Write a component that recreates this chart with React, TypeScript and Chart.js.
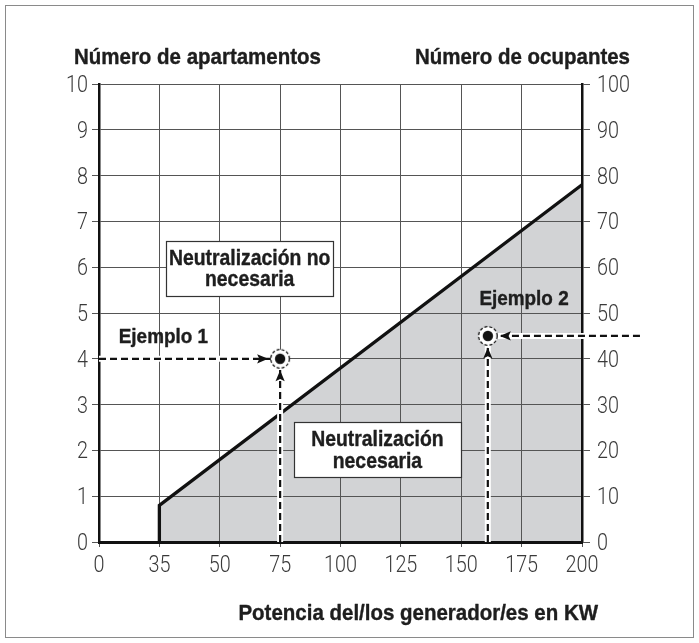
import React, { useEffect, useRef } from "react";
import { Chart, registerables } from "chart.js";

Chart.register(...registerables);

// ---- data ----
const xTickValues = [0, 35, 50, 75, 100, 125, 150, 175, 200]; // kW, drawn equally spaced
const xTickLabels = ["0", "35", "50", "75", "100", "125", "150", "175", "200"];
const apartmentMax = 10;
const occupantMax = 100;

const boundaryKw = [35, 35, 200];
const boundaryApartments = [0, 0.8, 7.8];

const exampleNames = ["Ejemplo 1", "Ejemplo 2"];
const exampleKw = [75, 161];
const exampleApartments = [4, 4.5];
const exampleGuideFromKw = [0, 224]; // where the horizontal guide line starts
const exampleLabelKw = [36, 176];
const exampleLabelApartments = [4.5, 5.32];

const leftTitle = "Número de apartamentos";
const rightTitle = "Número de ocupantes";
const xTitle = "Potencia del/los generador/es en KW";
const zoneNoLines = ["Neutralización no", "necesaria"];
const zoneYesLines = ["Neutralización", "necesaria"];
const zoneNoAt = { kw: 62.4, apartments: 5.97 };
const zoneYesAt = { kw: 115.3, apartments: 2.01 };

// map kW to the chart's equally spaced tick position
function kwToPos(kw: number): number {
  const n = xTickValues.length;
  if (kw >= xTickValues[n - 1]) {
    const span = xTickValues[n - 1] - xTickValues[n - 2];
    return n - 1 + (kw - xTickValues[n - 1]) / span;
  }
  for (let i = 0; i < n - 1; i++) {
    const a = xTickValues[i], b = xTickValues[i + 1];
    if (kw >= a && kw <= b) return i + (kw - a) / (b - a);
  }
  return 0;
}

const BOLD = "'Liberation Sans', Arial, sans-serif";
const LIGHT = "Roboto, 'Liberation Sans', sans-serif";

function condensedText(
  ctx: CanvasRenderingContext2D,
  text: string,
  x: number,
  y: number,
  font: string,
  sx: number,
  align: CanvasTextAlign,
  baseline: CanvasTextBaseline,
  color: string,
  heavy = 0
) {
  ctx.save();
  ctx.font = font;
  ctx.fillStyle = color;
  ctx.textAlign = align;
  ctx.textBaseline = baseline;
  ctx.translate(x, y);
  ctx.scale(sx, 1);
  ctx.fillText(text, 0, 0);
  if (heavy > 0) {
    ctx.strokeStyle = color;
    ctx.lineWidth = heavy;
    ctx.lineJoin = "round";
    ctx.strokeText(text, 0, 0);
  }
  ctx.restore();
}

export default function App() {
  const ref = useRef<HTMLCanvasElement>(null);

  useEffect(() => {
    const canvas = ref.current!;

    const marker = document.createElement("canvas");
    marker.width = 24;
    marker.height = 24;
    const m = marker.getContext("2d")!;
    m.fillStyle = "#fff";
    m.beginPath();
    m.arc(12, 12, 9.3, 0, Math.PI * 2);
    m.fill();
    m.setLineDash([3, 2]);
    m.lineWidth = 1.3;
    m.strokeStyle = "#111";
    m.stroke();
    m.setLineDash([]);
    m.fillStyle = "#111";
    m.beginPath();
    m.arc(12, 12, 5.2, 0, Math.PI * 2);
    m.fill();

    const guideSegments: { x: number; y: number }[][] = [];
    exampleKw.forEach((kw, i) => {
      const px = kwToPos(kw);
      const py = exampleApartments[i];
      guideSegments.push([
        { x: kwToPos(exampleGuideFromKw[i]), y: py },
        { x: px, y: py },
      ]);
      guideSegments.push([
        { x: px, y: 0 },
        { x: px, y: py },
      ]);
    });

    const datasets: any[] = [];
    datasets.push({
      data: exampleKw.map((kw, i) => ({ x: kwToPos(kw), y: exampleApartments[i] })),
      showLine: false,
      pointStyle: marker,
      pointRadius: 12,
      order: 0,
      clip: false,
    });
    guideSegments.forEach((seg) => {
      datasets.push({
        data: seg,
        borderColor: "#111",
        borderWidth: 2.2,
        borderDash: [7, 4],
        pointRadius: 0,
        fill: false,
        order: 1,
        clip: false,
      });
      datasets.push({
        data: seg,
        borderColor: "#fff",
        borderWidth: 6,
        pointRadius: 0,
        fill: false,
        order: 2,
        clip: false,
      });
    });
    datasets.push({
      data: boundaryKw.map((kw, i) => ({ x: kwToPos(kw), y: boundaryApartments[i] })),
      borderColor: "#111",
      borderWidth: 3.3,
      backgroundColor: "#d2d3d5",
      fill: "origin",
      pointRadius: 0,
      order: 3,
      borderJoinStyle: "miter",
    });

    const drawArrow = (ctx: CanvasRenderingContext2D, x: number, y: number, dir: string) => {
      const L = 11, W = 4.6;
      ctx.save();
      ctx.beginPath();
      if (dir === "right") {
        ctx.moveTo(x, y); ctx.lineTo(x - L, y - W); ctx.lineTo(x - L * 0.8, y); ctx.lineTo(x - L, y + W);
      } else if (dir === "left") {
        ctx.moveTo(x, y); ctx.lineTo(x + L, y - W); ctx.lineTo(x + L * 0.8, y); ctx.lineTo(x + L, y + W);
      } else {
        ctx.moveTo(x, y); ctx.lineTo(x - W, y + L); ctx.lineTo(x, y + L * 0.8); ctx.lineTo(x + W, y + L);
      }
      ctx.closePath();
      ctx.fillStyle = "#111";
      ctx.fill();
      ctx.restore();
    };

    const BOX_FONT = `bold 22px ${BOLD}`;
    const BOX_SX = 0.88;
    const drawBox = (ctx: CanvasRenderingContext2D, cx: number, cy: number, lines: string[]) => {
      const w = 167;
      const h = 55;
      const lh = 21.5;
      ctx.save();
      ctx.fillStyle = "#fff";
      ctx.fillRect(cx - w / 2, cy - h / 2, w, h);
      ctx.strokeStyle = "#333";
      ctx.lineWidth = 1.2;
      ctx.strokeRect(Math.round(cx - w / 2) + 0.5, Math.round(cy - h / 2) + 0.5, w, h);
      ctx.restore();
      lines.forEach((l, i) => {
        const y = cy - ((lines.length - 1) * lh) / 2 + i * lh + 1;
        condensedText(ctx, l, cx, y, BOX_FONT, BOX_SX, "center", "middle", "#1e1e1e", 0.4);
      });
    };

    const annotations = {
      id: "annotations",
      beforeDraw(chart: any) {
        const ctx = chart.ctx as CanvasRenderingContext2D;
        ctx.save();
        ctx.strokeStyle = "#8a8a8a";
        ctx.lineWidth = 1;
        ctx.strokeRect(5.5, 5.5, 688, 632);
        ctx.restore();
      },
      afterDraw(chart: any) {
        const ctx = chart.ctx as CanvasRenderingContext2D;
        const xs = chart.scales.x, ys = chart.scales.y, y1 = chart.scales.y1;
        const TICK_FONT = `300 23px ${LIGHT}`;
        const TSX = 0.86;
        const TCOL = "#3a3a3a";
        // tick labels from the library's own ticks
        ys.ticks.forEach((t: any, i: number) => {
          condensedText(ctx, String(t.value), chart.chartArea.left - 11, ys.getPixelForTick(i) + 8, TICK_FONT, TSX, "right", "alphabetic", TCOL);
        });
        y1.ticks.forEach((t: any, i: number) => {
          condensedText(ctx, String(t.value), chart.chartArea.right + 15, y1.getPixelForTick(i) + 8, TICK_FONT, TSX, "left", "alphabetic", TCOL);
        });
        xs.ticks.forEach((t: any, i: number) => {
          condensedText(ctx, xTickLabels[t.value] ?? "", xs.getPixelForTick(i), chart.chartArea.bottom + 29.5, TICK_FONT, TSX, "center", "alphabetic", TCOL);
        });
      },
      afterDatasetsDraw(chart: any) {
        const ctx = chart.ctx as CanvasRenderingContext2D;
        const xs = chart.scales.x, ys = chart.scales.y;
        exampleKw.forEach((kw, i) => {
          const px = xs.getPixelForValue(kwToPos(kw));
          const py = ys.getPixelForValue(exampleApartments[i]);
          const gx = xs.getPixelForValue(kwToPos(exampleGuideFromKw[i]));
          drawArrow(ctx, gx < px ? px - 12 : px + 12, py, gx < px ? "right" : "left");
          drawArrow(ctx, px, py + 11.5, "up");
        });
        drawBox(ctx, xs.getPixelForValue(kwToPos(zoneNoAt.kw)), ys.getPixelForValue(zoneNoAt.apartments), zoneNoLines);
        drawBox(ctx, xs.getPixelForValue(kwToPos(zoneYesAt.kw)), ys.getPixelForValue(zoneYesAt.apartments), zoneYesLines);

        exampleNames.forEach((name, i) => {
          condensedText(
            ctx,
            name,
            xs.getPixelForValue(kwToPos(exampleLabelKw[i])),
            ys.getPixelForValue(exampleLabelApartments[i]) + 1,
            `bold 21px ${BOLD}`,
            0.9,
            "center",
            "middle",
            "#1e1e1e",
            0.4
          );
        });
        const TITLE_FONT = `bold 22.5px ${BOLD}`;
        condensedText(ctx, leftTitle, 74, 58, TITLE_FONT, 0.91, "left", "middle", "#1e1e1e", 0.4);
        condensedText(ctx, rightTitle, 630, 58, TITLE_FONT, 0.91, "right", "middle", "#1e1e1e", 0.4);
        condensedText(ctx, xTitle, 598, 614, TITLE_FONT, 0.91, "right", "middle", "#1e1e1e", 0.4);
      },
    };

    const chart = new Chart(canvas, {
      type: "line",
      data: { datasets },
      options: {
        animation: false,
        responsive: false,
        devicePixelRatio: 1,
        layout: { padding: { top: 84, left: 0, right: 0, bottom: 0 } },
        plugins: {
          legend: { display: false },
          tooltip: { enabled: false },
          filler: { drawTime: "beforeDraw" } as any,
        },
        scales: {
          x: {
            type: "linear",
            min: 0,
            max: xTickValues.length - 1,
            afterFit: (s: any) => { s.height = 101; },
            ticks: { stepSize: 1, display: false },
            grid: { color: "#555", lineWidth: 1, tickLength: 5 },
            border: { color: "#111", width: 3 },
          },
          y: {
            type: "linear",
            position: "left",
            min: 0,
            max: apartmentMax,
            afterFit: (s: any) => { s.width = 99; },
            ticks: { stepSize: 1, display: false },
            grid: { color: "#555", lineWidth: 1, tickLength: 7 },
            border: { color: "#111", width: 2.5 },
          },
          y1: {
            type: "linear",
            position: "right",
            min: 0,
            max: occupantMax,
            afterFit: (s: any) => { s.width = 117; },
            ticks: { stepSize: 10, display: false },
            grid: { color: "#555", lineWidth: 1, tickLength: 8, drawOnChartArea: false },
            border: { color: "#111", width: 2.5 },
          },
        },
      },
      plugins: [annotations],
    });
    return () => chart.destroy();
  }, []);

  return (
    <div style={{ position: "fixed", left: 0, top: 0, width: 699, height: 643, background: "#fff" }}>
      <canvas ref={ref} width={699} height={643} style={{ display: "block" }} />
    </div>
  );
}
